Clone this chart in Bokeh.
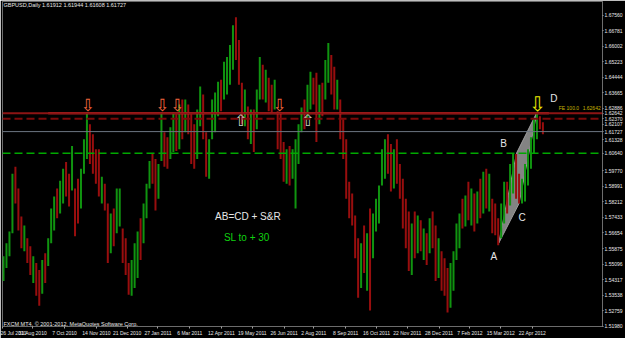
from bokeh.plotting import figure
from bokeh.models import Range1d, FixedTicker, Label, Span, ColumnDataSource
from bokeh.core.properties import value
from bokeh.embed import file_html
from bokeh.resources import INLINE

# ---------------- data (GBPUSD daily, one entry per ~3 trading days) -------------
bar_high = [
    1.5549, 1.5614, 1.5673, 1.5962, 1.5997, 1.5888, 1.5748, 1.5703, 1.5639, 1.5599,
    1.5549, 1.5515, 1.5480, 1.5530, 1.5564, 1.5639, 1.5788, 1.5848, 1.5888, 1.5927,
    1.5987, 1.6021, 1.5962, 1.6101, 1.5888, 1.5937, 1.5987, 1.6135, 1.6269, 1.6209,
    1.6159, 1.6085, 1.6085, 1.5947, 1.5912, 1.5813, 1.5763, 1.5788, 1.5888, 1.5888,
    1.5688, 1.5639, 1.5515, 1.5530, 1.5614, 1.5673, 1.5739, 1.5813, 1.5912, 1.6026,
    1.6061, 1.6036, 1.6011, 1.6269, 1.6169, 1.6145, 1.6194, 1.6269, 1.6259, 1.6308,
    1.6333, 1.6333, 1.6308, 1.6259, 1.6209, 1.6283, 1.6398, 1.6358, 1.6169, 1.6135,
    1.6333, 1.6368, 1.6422, 1.6432, 1.6522, 1.6546, 1.6606, 1.6705, 1.6745, 1.6631,
    1.6417, 1.6383, 1.6298, 1.6283, 1.6283, 1.6383, 1.6546, 1.6507, 1.6482, 1.6442,
    1.6407, 1.6432, 1.6274, 1.6269, 1.6121, 1.6085, 1.6101, 1.6085, 1.6135, 1.6209,
    1.6293, 1.6333, 1.6407, 1.6472, 1.6442, 1.6467, 1.6407, 1.6417, 1.6531, 1.6616,
    1.6556, 1.6497, 1.6432, 1.6333, 1.6234, 1.6135, 1.5922, 1.5863, 1.5753, 1.5639,
    1.5614, 1.5703, 1.5664, 1.5788, 1.5763, 1.5837, 1.5903, 1.6085, 1.6135, 1.6159,
    1.6111, 1.6085, 1.6135, 1.6011, 1.5937, 1.5837, 1.5773, 1.5713, 1.5773, 1.5753,
    1.5729, 1.5688, 1.5664, 1.5739, 1.5773, 1.5703, 1.5639, 1.5574, 1.5539, 1.5490,
    1.5515, 1.5574, 1.5713, 1.5763, 1.5837, 1.5853, 1.5922, 1.5888, 1.5863, 1.5873,
    1.5937, 1.5972, 1.5987, 1.5962, 1.5837, 1.5813, 1.5739, 1.5813, 1.5922, 1.5922,
    1.6011, 1.6061, 1.6061, 1.5962, 1.5937, 1.6011, 1.6085, 1.6145, 1.6234, 1.6269,
    1.6249, 1.6219,
]
bar_low = [
    1.5425, 1.5490, 1.5549, 1.5664, 1.5813, 1.5678, 1.5589, 1.5574, 1.5515, 1.5455,
    1.5415, 1.5351, 1.5301, 1.5361, 1.5415, 1.5500, 1.5614, 1.5678, 1.5739, 1.5763,
    1.5813, 1.5848, 1.5798, 1.5878, 1.5649, 1.5713, 1.5788, 1.5962, 1.6036, 1.6011,
    1.5962, 1.5912, 1.5848, 1.5813, 1.5778, 1.5515, 1.5564, 1.5599, 1.5664, 1.5698,
    1.5515, 1.5455, 1.5356, 1.5351, 1.5390, 1.5440, 1.5530, 1.5614, 1.5739, 1.5888,
    1.5912, 1.5778, 1.5837, 1.6026, 1.5997, 1.5987, 1.6036, 1.6071, 1.6076, 1.6085,
    1.6135, 1.6169, 1.6159, 1.6011, 1.5987, 1.6036, 1.6199, 1.6135, 1.5947, 1.5937,
    1.6135, 1.6169, 1.6249, 1.6274, 1.6333, 1.6358, 1.6407, 1.6482, 1.6531, 1.6407,
    1.6209, 1.6199, 1.6135, 1.6111, 1.6071, 1.6184, 1.6333, 1.6333, 1.6318, 1.6274,
    1.6269, 1.6283, 1.6085, 1.6036, 1.5922, 1.5912, 1.5903, 1.5937, 1.5788, 1.6011,
    1.6169, 1.6184, 1.6234, 1.6283, 1.6308, 1.6121, 1.6209, 1.6249, 1.6333, 1.6417,
    1.6358, 1.6283, 1.6283, 1.6135, 1.6036, 1.5837, 1.5739, 1.5703, 1.5539, 1.5341,
    1.5390, 1.5465, 1.5376, 1.5277, 1.5539, 1.5673, 1.5713, 1.5903, 1.5937, 1.5962,
    1.5873, 1.5888, 1.5912, 1.5837, 1.5688, 1.5589, 1.5475, 1.5455, 1.5539, 1.5564,
    1.5574, 1.5530, 1.5505, 1.5564, 1.5589, 1.5425, 1.5440, 1.5376, 1.5351, 1.5267,
    1.5291, 1.5376, 1.5530, 1.5589, 1.5688, 1.5698, 1.5729, 1.5703, 1.5673, 1.5713,
    1.5739, 1.5763, 1.5788, 1.5773, 1.5664, 1.5654, 1.5604, 1.5639, 1.5713, 1.5763,
    1.5803, 1.5863, 1.5837, 1.5813, 1.5813, 1.5823, 1.5903, 1.5987, 1.6061, 1.6135,
    1.6184, 1.6159,
]
# G = bullish candle, R = bearish candle
bar_dir = list(
    "GGGGRRRGRR" "GRRGRGGGRG" "GRRGRRGGGR" "RRRGRRGRGG" "RRRGGGRGGG"
    "RRGGRRGGRG" "RGRRRGGRRG" "GGGRGGGGRR" "RGRGRGGRGR" "RGRRRGRGGG"
    "GRGGRRGRGG" "RRGRRRRRRR" "GRGRGGGGGR" "RGRRRRRGRG" "RGRGRRGRRR"
    "GGGGRGRGRG" "RGRGRRRGGR" "GGRRGGGGGG" "RR"
)
bars_per_entry = 3

date_labels = ["26 Jul 2010", "31 Aug 2010", "7 Oct 2010", "14 Nov 2010", "21 Dec 2010",
               "27 Jan 2011", "6 Mar 2011", "12 Apr 2011", "19 May 2011", "26 Jun 2011",
               "2 Aug 2011", "8 Sep 2011", "16 Oct 2011", "22 Nov 2011", "28 Dec 2011",
               "7 Feb 2012", "15 Mar 2012", "22 Apr 2012"]
date_bars = [0, 30, 62, 94, 125, 156, 188, 220, 251, 283, 313, 345, 376, 407, 439, 470, 501, 533]

price_ticks = [1.51980, 1.52759, 1.53538, 1.54317, 1.55096, 1.55875, 1.56654, 1.57433,
               1.58212, 1.58991, 1.59770, 1.61328, 1.62107, 1.62886, 1.63665,
               1.64444, 1.65223, 1.66002, 1.66781, 1.67560]

fe_level = 1.62642
resist_dashed = 1.62370
bid_price = 1.61727
sl_level = 1.60640
trend_bars = [45.5, 549.5]

# AB=CD pattern points: A, B, D, C
pattern_bar = [499.0, 517.0, 537.5, 519.5]
pattern_price = [1.5614, 1.6065, 1.6269, 1.5813]
point_names = ["A", "B", "C", "D"]
point_label_bar = [494.0, 504.0, 522.5, 554.5]
point_label_price = [1.5549, 1.6115, 1.5743, 1.6338]

down_arrow_bars = [85.5, 160.5, 175.5, 278.5]
down_arrow_price = [1.6306, 1.6306, 1.6306, 1.6306]
up_arrow_bars = [239.2, 306.8]
up_arrow_price = [1.6226, 1.6226]
signal_arrow_bar = [538.0]
signal_arrow_price = [1.6310]

title_text = "GBPUSD,Daily  1.61912 1.61944 1.61608 1.61727"

# ---------------- figure ----------------
p = figure(width=625, height=338, output_backend="svg", toolbar_location=None,
           x_range=Range1d(-0.5, 603.5), y_range=Range1d(1.51971, 1.68240),
           y_axis_location="right")
p.min_border_left = 2
p.min_border_right = 19
p.min_border_top = 1
p.min_border_bottom = 9
p.background_fill_color = "#000000"
p.border_fill_color = "#000000"
p.outline_line_color = "#9a9a9a"
p.outline_line_dash = "1 1"
p.xgrid.visible = False
p.ygrid.visible = False

# axes
p.xaxis.ticker = FixedTicker(ticks=date_bars)
p.xaxis.major_label_overrides = {b: s for b, s in zip(date_bars, date_labels)}
p.xaxis.major_label_text_align = "left"
p.xaxis.major_label_text_font = "Liberation Sans"
p.xaxis.major_label_text_font_size = "5px"
p.xaxis.major_label_text_color = "#e8e8e8"
p.xaxis.major_label_standoff = 1
p.xaxis.major_tick_out = 2
p.xaxis.major_tick_in = 0
p.xaxis.major_tick_line_color = "#a0a0a0"
p.xaxis.minor_tick_line_color = None
p.xaxis.axis_line_color = None

# the right scale shows the regular price ticks plus the level tags
tag_prices = [fe_level, resist_dashed, bid_price, sl_level]
scale_ticks = price_ticks + tag_prices
p.yaxis.ticker = FixedTicker(ticks=scale_ticks)
p.yaxis.major_label_overrides = {v: "%.5f" % v for v in scale_ticks}
p.yaxis.major_label_text_font = "Liberation Sans"
p.yaxis.major_label_text_font_size = "5px"
p.yaxis.major_label_text_color = "#e8e8e8"
p.yaxis.major_label_standoff = 1
p.yaxis.major_tick_out = 1
p.yaxis.major_tick_in = 0
p.yaxis.major_tick_line_color = "#a0a0a0"
p.yaxis.minor_tick_line_color = None
p.yaxis.axis_line_color = None

# pattern shading (behind the candles)
p.patch(pattern_bar, pattern_price, fill_color="#8a8a8a", fill_alpha=0.95,
        line_color="#9c9c9c", line_width=1)

# candles
xs = [bars_per_entry * i + 0.5 for i in range(len(bar_high))]
colors = ["#109410" if d == "G" else "#980e0e" for d in bar_dir]
src = ColumnDataSource(dict(x=xs, hi=bar_high, lo=bar_low, c=colors))
p.segment(x0="x", y0="lo", x1="x", y1="hi", line_color="c", line_width=2, source=src)

# horizontal levels
p.add_layout(Span(location=sl_level, dimension="width", line_color="#00a800",
                  line_width=1.5, line_dash="8 4"))
p.add_layout(Span(location=bid_price, dimension="width", line_color="#6c7682", line_width=1))
p.add_layout(Span(location=resist_dashed, dimension="width", line_color="#7c0a0a",
                  line_width=2, line_dash="8 4"))
p.add_layout(Span(location=fe_level, dimension="width", line_color="#8c1414", line_width=2))
p.line(trend_bars, [fe_level, fe_level], line_color="#ff3a3a", line_width=2)

# arrows
p.text(down_arrow_bars, down_arrow_price, text=["\u21e9"] * len(down_arrow_bars),
       text_font=value("DejaVu Sans"), text_font_size="17px", text_color="#f0643c",
       text_align="center", text_baseline="middle")
p.text(up_arrow_bars, up_arrow_price, text=["\u21e7"] * len(up_arrow_bars),
       text_font=value("DejaVu Sans"), text_font_size="16px", text_color="#c8d4c8",
       text_align="center", text_baseline="middle")
p.text(signal_arrow_bar, signal_arrow_price, text=["\u21e9"],
       text_font=value("DejaVu Sans"), text_font_size="20px", text_color="#e8e800",
       text_align="center", text_baseline="middle")

# pattern point names
p.text(point_label_bar, point_label_price, text=point_names,
       text_font=value("Liberation Sans"), text_font_size="10px", text_color="#e6e6e6",
       text_align="center", text_baseline="middle")

# comments
p.add_layout(Label(x=246.5, y=1.5748, text="AB=CD + S&R", text_font="Liberation Sans",
                   text_font_size="10px", text_color="#e6e6e6", text_align="center",
                   text_baseline="middle"))
p.add_layout(Label(x=245.5, y=1.5644, text="SL to + 30", text_font="Liberation Sans",
                   text_font_size="10px", text_color="#10d010", text_align="center",
                   text_baseline="middle"))

# header / footer texts
p.add_layout(Label(x=0.5, y=1.6804, text=title_text, text_font="Liberation Sans",
                   text_font_size="5.5px", text_color="#e8e8e8", text_baseline="middle"))
p.add_layout(Label(x=0.5, y=1.5212, text="FXCM MT4, \u00a9 2001-2012, MetaQuotes Software Corp.",
                   text_font="Liberation Sans", text_font_size="5.5px", text_color="#e8e8e8",
                   text_baseline="middle"))
p.add_layout(Label(x=559.5, y=1.6291, text="FE 100.0", text_font="Liberation Sans",
                   text_font_size="5px", text_color="#c8b400", text_baseline="middle"))
p.add_layout(Label(x=583.5, y=1.6291, text="%.5f" % fe_level, text_font="Liberation Sans",
                   text_font_size="5px", text_color="#c8b400", text_baseline="middle"))

open("out.html", "w").write(file_html(p, INLINE))
